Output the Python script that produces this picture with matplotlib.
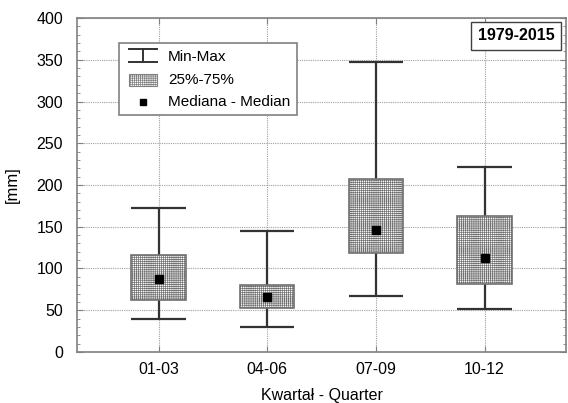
import matplotlib.pyplot as plt
from matplotlib.patches import Rectangle
from matplotlib.lines import Line2D
from matplotlib.ticker import MultipleLocator

plt.rcParams['font.family'] = ['Liberation Sans', 'DejaVu Sans']
plt.rcParams['hatch.color'] = '#d0d0d0'
plt.rcParams['hatch.linewidth'] = 0.5

# data
quarters = ["01-03", "04-06", "07-09", "10-12"]
mins = [39, 30, 67, 51]
q1 = [62, 53, 118, 81]
medians = [88, 66, 146, 112]
q3 = [116, 80, 207, 163]
maxs = [173, 145, 347, 221]

pos = list(range(1, len(quarters) + 1))
w = 0.5
edge = '#808080'
dark = '#333333'
fs = 11.5

fig = plt.figure(figsize=(5.68, 4.03), dpi=100)
ax = fig.add_axes([0.1356, 0.1266, 0.861, 0.8287])

ax.grid(True, color='#a0a0a0', linestyle=(0, (1, 1)), linewidth=0.8)
ax.set_axisbelow(True)

# whiskers + caps
ax.vlines(pos, mins, maxs, color=dark, linewidth=1.6, zorder=2)
ax.hlines(mins, [p - w / 2 for p in pos], [p + w / 2 for p in pos], color=dark, linewidth=1.6, zorder=2)
ax.hlines(maxs, [p - w / 2 for p in pos], [p + w / 2 for p in pos], color=dark, linewidth=1.6, zorder=2)

# boxes
ax.bar(pos, [b - a for a, b in zip(q1, q3)], bottom=q1, width=w, facecolor='white',
       edgecolor='#707070', linewidth=1.2, hatch='++++++++', zorder=3)

# medians
ax.plot(pos, medians, 's', color='black', markersize=5.5, zorder=4)

ax.set_xlim(0.25, 4.75)
ax.set_ylim(0, 400)
ax.set_xticks(pos)
ax.set_xticklabels(quarters)
ax.yaxis.set_major_locator(MultipleLocator(50))
ax.yaxis.set_minor_locator(MultipleLocator(10))
ax.tick_params(axis='both', which='both', direction='in', top=True, right=True,
               colors=edge, labelcolor='black', labelsize=fs)
ax.tick_params(axis='y', which='major', length=4, pad=10)
ax.tick_params(axis='x', which='major', length=4, pad=7)
ax.tick_params(axis='y', which='minor', length=2.5)
for s in ax.spines.values():
    s.set_color(edge)
    s.set_linewidth(1.2)

ax.set_xlabel("Kwartał - Quarter", fontsize=fs, labelpad=8)
ax.set_ylabel("[mm]", fontsize=12, labelpad=12)

# period label
ax.text(0.976, 0.947, "1979-2015", transform=ax.transAxes, ha='right', va='center',
        fontsize=11.5, fontweight='bold',
        bbox=dict(boxstyle='square,pad=0.4', facecolor='white', edgecolor='#404040', linewidth=1))

# hand-made legend
t = ax.transAxes
ax.add_patch(Rectangle((0.086, 0.710), 0.364, 0.215, transform=t, facecolor='white',
                       edgecolor=edge, linewidth=1.2, zorder=5))
x0, x1 = 0.106, 0.163
xm = (x0 + x1) / 2
ax.add_line(Line2D([x0, x1], [0.907, 0.907], transform=t, color=dark, lw=1.4, zorder=6))
ax.add_line(Line2D([xm, xm], [0.907, 0.868], transform=t, color=dark, lw=1.4, zorder=6))
ax.add_line(Line2D([x0, x1], [0.868, 0.868], transform=t, color=dark, lw=1.4, zorder=6))
ax.add_patch(Rectangle((x0, 0.796), x1 - x0, 0.036, transform=t, facecolor='white',
                       edgecolor=edge, linewidth=0.8, hatch='++++++++', zorder=6))
ax.plot([xm], [0.749], 's', color='black', markersize=5, transform=t, zorder=6)
for y, s in [(0.883, "Min-Max"), (0.814, "25%-75%"), (0.749, "Mediana - Median")]:
    ax.text(0.186, y, s, transform=t, ha='left', va='center', fontsize=11, zorder=7)

fig.savefig("out.png", dpi=100)
